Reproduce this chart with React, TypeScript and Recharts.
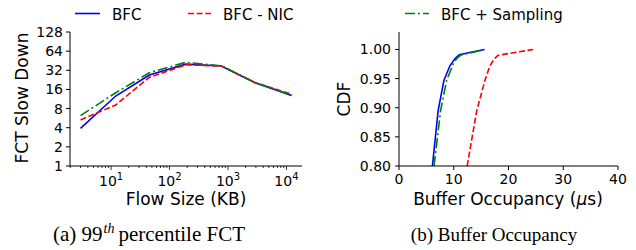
import React from 'react';
import { LineChart, Line, XAxis, YAxis } from 'recharts';

// ---- Data: (a) 99th percentile FCT ----
const flowSizesKB = [3, 12, 45, 190, 770, 2900, 12200];
const fctBFC = [3.9, 12.6, 27, 40, 37.4, 20.4, 12.8];
const fctBFCNIC = [5.3, 9.1, 24.8, 39, 37.4, 20.4, 13.5];
const fctBFCSampling = [6.2, 14.2, 29.3, 42.7, 37.6, 20.6, 13.0];
const fctYTicks = [1, 2, 4, 8, 16, 32, 64, 128];
const fctXMajorTicks = [10, 100, 1000, 10000];

// ---- Data: (b) Buffer Occupancy CDF ----
const bufBFC = [6.1, 7.15, 8.2, 9.3, 10.2, 11.0, 15.6];
const cdfBFC = [0.8, 0.895, 0.947, 0.972, 0.984, 0.991, 1.0];
const bufBFCNIC = [12.45, 14.2, 15.7, 16.6, 17.4, 18.1, 24.5];
const cdfBFCNIC = [0.8, 0.895, 0.947, 0.972, 0.984, 0.99, 1.0];
const bufBFCSampling = [6.4, 7.6, 8.7, 9.9, 10.5, 11.2, 15.6];
const cdfBFCSampling = [0.8, 0.895, 0.947, 0.975, 0.984, 0.99, 1.0];
const cdfYTicks = [0.8, 0.85, 0.9, 0.95, 1.0];
const bufXTicks = [0, 10, 20, 30, 40];

const SERIES = [
  { name: 'BFC', color: '#0000ff', dash: undefined as string | undefined },
  { name: 'BFC - NIC', color: '#ff0000', dash: '6 2.6' },
  { name: 'BFC + Sampling', color: '#008000', dash: '10 3 2 3' },
];

const FONT = 'DejaVu Sans, sans-serif';
const SERIF = 'Liberation Serif, Times New Roman, serif';

const fctData = flowSizesKB.map((x, i) => ({
  x,
  bfc: fctBFC[i],
  nic: fctBFCNIC[i],
  samp: fctBFCSampling[i],
}));

const cdfBFCData = bufBFC.map((x, i) => ({ x, y: cdfBFC[i] }));
const cdfNICData = bufBFCNIC.map((x, i) => ({ x, y: cdfBFCNIC[i] }));
const cdfSampData = bufBFCSampling.map((x, i) => ({ x, y: cdfBFCSampling[i] }));

const xLogDomain = [Math.pow(10, 0.297), Math.pow(10, 4.266)];
const minorTicks: number[] = [];
for (let e = 0; e <= 4; e++) {
  for (let m = 1; m <= 9; m++) {
    const v = m * Math.pow(10, e);
    if (v >= xLogDomain[0] && v <= xLogDomain[1]) minorTicks.push(v);
  }
}
const allXTicks = Array.from(new Set([...minorTicks, ...fctXMajorTicks])).sort((a, b) => a - b);

const LogXTick = (props: any) => {
  const { x, y, payload } = props;
  const v = payload.value as number;
  const lg = Math.log10(v);
  const exp = Math.round(lg);
  const major = Math.abs(lg - exp) < 1e-6 && fctXMajorTicks.includes(v);
  return (
    <g>
      <line x1={x} x2={x} y1={y} y2={y + (major ? 4 : 2)} stroke="#000" strokeWidth={0.8} />
      {major && (
        <text x={x} y={y + 20} textAnchor="middle" fontSize={14} fontFamily={FONT} fill="#000">
          10<tspan dy={-6} fontSize={10}>{exp}</tspan>
        </text>
      )}
    </g>
  );
};

const axisLine = { stroke: '#000', strokeWidth: 1 };
const tickStyle = { fontSize: 14, fill: '#000', fontFamily: FONT };

export default function App() {
  return (
    <div style={{ position: 'absolute', left: 0, top: 0, width: 636, height: 250, background: '#fff', overflow: 'hidden' }}>
      <div style={{ position: 'absolute', left: 0, top: 0 }}>
        <LineChart width={320} height={200} data={fctData} margin={{ top: 32, right: 18, bottom: 4, left: 0 }}>
          <XAxis
            dataKey="x"
            type="number"
            scale="log"
            domain={xLogDomain}
            allowDataOverflow
            ticks={allXTicks}
            interval={0}
            tick={<LogXTick />}
            tickLine={false}
            tickSize={0}
            tickMargin={0}
            height={30}
            axisLine={axisLine}
          />
          <XAxis xAxisId="top" orientation="top" height={0} tick={false} tickLine={false} axisLine={axisLine} />
          <YAxis
            type="number"
            scale="log"
            domain={[1, 128]}
            allowDataOverflow
            ticks={fctYTicks}
            interval={0}
            width={70}
            tick={tickStyle}
            tickSize={4}
            tickMargin={3}
            tickLine={{ stroke: '#000' }}
            axisLine={axisLine}
          />
          <YAxis yAxisId="right" orientation="right" width={0} tick={false} tickLine={false} axisLine={axisLine} />
          <Line dataKey="bfc" stroke={SERIES[0].color} strokeWidth={1.6} dot={false} isAnimationActive={false} />
          <Line dataKey="nic" stroke={SERIES[1].color} strokeWidth={1.6} strokeDasharray={SERIES[1].dash} dot={false} isAnimationActive={false} />
          <Line dataKey="samp" stroke={SERIES[2].color} strokeWidth={1.6} strokeDasharray={SERIES[2].dash} dot={false} isAnimationActive={false} />
        </LineChart>
      </div>
      <div style={{ position: 'absolute', left: 320, top: 0 }}>
        <LineChart width={316} height={200} margin={{ top: 32, right: 18, bottom: 4, left: 0 }}>
          <XAxis
            dataKey="x"
            type="number"
            domain={[0, 40]}
            ticks={bufXTicks}
            interval={0}
            height={30}
            tick={tickStyle}
            tickSize={4}
            tickMargin={4}
            tickLine={{ stroke: '#000' }}
            axisLine={axisLine}
          />
          <XAxis xAxisId="top" orientation="top" height={0} tick={false} tickLine={false} axisLine={axisLine} />
          <YAxis
            type="number"
            domain={[0.8, 1.03]}
            allowDataOverflow
            ticks={cdfYTicks}
            interval={0}
            width={79}
            tick={tickStyle}
            tickFormatter={(v: number) => v.toFixed(2)}
            tickSize={4}
            tickMargin={4}
            tickLine={{ stroke: '#000' }}
            axisLine={axisLine}
          />
          <YAxis yAxisId="right" orientation="right" width={0} tick={false} tickLine={false} axisLine={axisLine} />
          <Line data={cdfBFCData} dataKey="y" stroke={SERIES[0].color} strokeWidth={1.6} dot={false} isAnimationActive={false} />
          <Line data={cdfNICData} dataKey="y" stroke={SERIES[1].color} strokeWidth={1.6} strokeDasharray={SERIES[1].dash} dot={false} isAnimationActive={false} />
          <Line data={cdfSampData} dataKey="y" stroke={SERIES[2].color} strokeWidth={1.6} strokeDasharray={SERIES[2].dash} dot={false} isAnimationActive={false} />
        </LineChart>
      </div>
      <svg width={636} height={250} style={{ position: 'absolute', left: 0, top: 0, pointerEvents: 'none' }}>
        {/* legend */}
        <line x1={75} x2={100} y1={13.5} y2={13.5} stroke={SERIES[0].color} strokeWidth={1.6} />
        <text x={112} y={20} fontSize={15} fontFamily={FONT} fill="#000">{SERIES[0].name}</text>
        <line x1={188} x2={212} y1={13.5} y2={13.5} stroke={SERIES[1].color} strokeWidth={1.6} strokeDasharray={SERIES[1].dash} />
        <text x={223} y={20} fontSize={15} fontFamily={FONT} fill="#000">{SERIES[1].name}</text>
        <line x1={405} x2={429} y1={13.5} y2={13.5} stroke={SERIES[2].color} strokeWidth={1.6} strokeDasharray={SERIES[2].dash} />
        <text x={441} y={20} fontSize={15} fontFamily={FONT} fill="#000">{SERIES[2].name}</text>
        {/* axis titles */}
        <text x={186} y={205} textAnchor="middle" fontSize={17} fontFamily={FONT} fill="#000">Flow Size (KB)</text>
        <text transform="translate(28,98) rotate(-90)" textAnchor="middle" fontSize={17} fontFamily={FONT} fill="#000">FCT Slow Down</text>
        <text x={508} y={205} textAnchor="middle" fontSize={17} fontFamily={FONT} fill="#000">
          Buffer Occupancy (<tspan fontStyle="italic">μ</tspan>s)
        </text>
        <text transform="translate(350,99) rotate(-90)" textAnchor="middle" fontSize={17} fontFamily={FONT} fill="#000">CDF</text>
        {/* captions */}
        <text x={53} y={240.5} fontSize={21} fontFamily={SERIF} fill="#000">
          <tspan>(a) 99</tspan>
          <tspan dx={1} dy={-7.5} fontSize={14} fontStyle="italic">th</tspan>
          <tspan dx={4} dy={7.5}>percentile FCT</tspan>
        </text>
        <text x={494} y={240.5} textAnchor="middle" fontSize={19} fontFamily={SERIF} fill="#000">(b) Buffer Occupancy</text>
      </svg>
    </div>
  );
}
